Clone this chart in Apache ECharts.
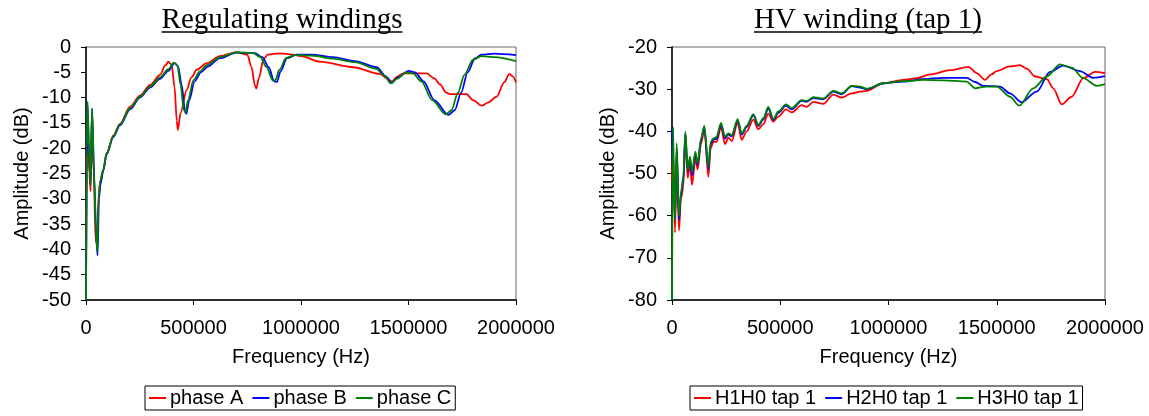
<!DOCTYPE html>
<html lang="en">

<head>
    <meta charset="UTF-8">
    <title>Frequency response</title>
    <style>
        html,
        body {
            margin: 0;
            padding: 0;
            width: 100%;
            height: 100%;
            background-color: #fff;
        }

        #chart {
            width: 1149px;
            height: 416px;
        }
    </style>
</head>

<body>
    <div id="chart"></div>
    <script src="https://cdn.jsdelivr.net/npm/echarts@6/dist/echarts.min.js"></script>
    <script>
        // [frequency Hz, amplitude dB]
        const regPhaseA = [[0, -50], [3000, -25], [5000, -14.5], [10000, -18], [15000, -25], [22000, -28.5], [28000, -13], [36000, -25], [45000, -38.5], [52000, -36], [60000, -29], [66000, -26.5], [80000, -24.3], [96000, -21], [127000, -17.5], [158000, -15.2], [205000, -11.8], [251000, -9.6], [298000, -7.5], [344000, -5.5], [370000, -3.6], [383000, -2.9], [398000, -3.5], [412000, -8], [422000, -14.5], [427000, -16.4], [440000, -13], [468000, -8.5], [490000, -6], [515000, -4.5], [561000, -3.2], [623000, -1.8], [700000, -1.0], [750000, -1.5], [770000, -4], [785000, -7.5], [792000, -8.2], [805000, -6], [825000, -2.5], [845000, -1.5], [902000, -1.25], [960000, -1.5], [1000000, -1.8], [1088000, -2.9], [1243000, -4.0], [1367000, -5.3], [1400000, -6.2], [1422000, -6.8], [1450000, -5.8], [1476000, -5.2], [1584000, -5.2], [1620000, -6.2], [1647000, -7.4], [1675000, -9.0], [1693000, -9.3], [1770000, -9.3], [1800000, -10.5], [1840000, -11.6], [1870000, -11.0], [1910000, -9.8], [1945000, -7], [1969000, -5.3], [1985000, -5.8], [2000000, -7]];
        const regPhaseB = [[0, -50], [4000, -22], [7000, -11.5], [14000, -20], [21000, -27], [28000, -12.2], [38000, -26], [47000, -37], [54000, -41.2], [60000, -30], [68000, -27], [80000, -24.5], [96000, -21.2], [127000, -17.8], [158000, -15.5], [205000, -12.3], [251000, -10.0], [298000, -8.0], [344000, -6.3], [383000, -4.7], [412000, -3.2], [428000, -3.8], [445000, -7.5], [460000, -12.5], [467000, -13.2], [480000, -10.5], [505000, -6.8], [535000, -5.0], [565000, -3.9], [623000, -2.2], [700000, -1.1], [785000, -1.2], [820000, -2.0], [850000, -4.0], [875000, -6.8], [888000, -6.9], [905000, -4.8], [935000, -2.2], [980000, -1.5], [1050000, -1.5], [1150000, -2.0], [1250000, -2.8], [1352000, -4.0], [1395000, -5.8], [1422000, -7.1], [1450000, -6.0], [1500000, -4.7], [1530000, -5.0], [1570000, -6.8], [1620000, -10.5], [1685000, -13.4], [1715000, -12.5], [1745000, -9], [1775000, -5.0], [1810000, -2.2], [1840000, -1.5], [1900000, -1.3], [2000000, -1.6]];
        const regPhaseC = [[0, -50], [4000, -20], [7000, -10.8], [14000, -20], [21000, -27.5], [28000, -12.2], [38000, -25], [46000, -36], [52000, -40.5], [58000, -30], [66000, -26.5], [80000, -24.3], [96000, -21], [127000, -17.6], [158000, -15.3], [205000, -12.1], [251000, -9.8], [298000, -7.8], [344000, -6.0], [383000, -4.4], [409000, -3.1], [425000, -3.6], [440000, -7.5], [455000, -12.5], [462000, -13.0], [475000, -10.5], [499000, -6.6], [530000, -4.8], [561000, -3.6], [623000, -2.0], [700000, -1.05], [777000, -1.2], [810000, -2.0], [840000, -4.0], [868000, -6.6], [880000, -6.6], [900000, -4.5], [930000, -2.2], [970000, -1.6], [1050000, -1.7], [1150000, -2.3], [1250000, -3.0], [1350000, -4.3], [1390000, -5.8], [1417000, -7.2], [1445000, -6.3], [1490000, -5.0], [1520000, -5.2], [1560000, -6.8], [1610000, -10.5], [1673000, -13.3], [1700000, -12.5], [1730000, -9], [1760000, -5.5], [1800000, -2.5], [1840000, -1.8], [1900000, -2.0], [2000000, -2.8]];

        const hvH1 = [[0, -52], [6000, -45], [14000, -64], [21600, -45], [32000, -63.5], [41600, -56], [52300, -53], [61600, -41], [72300, -51], [83100, -48], [92400, -52.7], [108000, -46.5], [118600, -49], [134000, -43], [149300, -39.5], [167900, -50.8], [178600, -44], [190900, -42.5], [206000, -42.5], [226300, -39], [244800, -43], [260300, -41.5], [275700, -42.3], [303300, -38], [321700, -42], [344900, -40], [375700, -37.2], [398700, -39.5], [421800, -38.3], [444900, -35.8], [468000, -37.7], [491000, -36.5], [526600, -34.8], [552700, -35.5], [599000, -33.8], [622000, -34.2], [652800, -33.0], [699000, -33.5], [745100, -31.3], [783600, -32.0], [830000, -31.0], [868400, -30.6], [899000, -30.4], [976000, -28.6], [1068000, -27.8], [1130000, -27.4], [1192000, -26.5], [1284000, -25.5], [1369000, -24.7], [1407000, -26.2], [1446000, -27.8], [1475000, -26.5], [1500000, -25.7], [1560000, -24.6], [1607000, -24.3], [1640000, -25.2], [1677000, -27.0], [1731000, -27.6], [1761000, -29.8], [1800000, -33.6], [1846000, -31.8], [1900000, -27.4], [1954000, -25.9], [2000000, -26.2]];
        const hvH2 = [[0, -39], [3000, -39], [6000, -50], [14000, -61], [21600, -44], [32000, -61], [41600, -55], [52300, -51.5], [61600, -40.5], [72300, -49.5], [83100, -46.5], [92400, -50.5], [108000, -45.3], [118600, -48], [134000, -42], [149300, -39], [167900, -49], [178600, -43], [190900, -42], [206000, -41.7], [226300, -38.3], [244800, -41.7], [260300, -40.8], [275700, -41.2], [303300, -37.4], [321700, -40.8], [344900, -39], [375700, -36.2], [398700, -38.7], [421800, -37.2], [444900, -34.6], [468000, -37.3], [491000, -35.6], [526600, -33.9], [552700, -34.8], [599000, -32.8], [622000, -33], [652800, -32.1], [699000, -32.4], [745100, -30.6], [783600, -31.2], [830000, -29.3], [868400, -29.6], [899000, -30.0], [976000, -28.6], [1068000, -28.2], [1161000, -27.6], [1253000, -27.3], [1361000, -27.3], [1400000, -28.3], [1438000, -29.2], [1515000, -29.4], [1561000, -31.0], [1615000, -33.1], [1684000, -30.6], [1746000, -25.9], [1807000, -24.4], [1884000, -25.7], [1946000, -27.3], [2000000, -26.9]];
        const hvH3 = [[0, -80], [3000, -80], [5000, -39], [9000, -52], [13900, -61], [21600, -42.8], [32300, -60.2], [41600, -54.3], [52300, -50.8], [61600, -40.1], [72300, -49.2], [83100, -46], [92400, -49.6], [108000, -44.8], [118600, -47.6], [134000, -41.7], [149300, -38.7], [167900, -48.4], [178600, -42.5], [190900, -41.7], [206000, -41.3], [226300, -38.0], [244800, -41.3], [260300, -40.5], [275700, -40.9], [303300, -37.1], [321700, -40.5], [344900, -38.7], [375700, -35.9], [398700, -38.5], [421800, -36.9], [444900, -34.2], [468000, -37.1], [491000, -35.3], [526600, -33.6], [552700, -34.5], [599000, -32.6], [622000, -32.8], [652800, -31.9], [699000, -32.2], [745100, -30.4], [783600, -31.0], [830000, -29.2], [868400, -29.4], [899000, -29.9], [976000, -28.6], [1068000, -28.1], [1161000, -27.8], [1253000, -27.9], [1361000, -28.2], [1400000, -29.8], [1450000, -29.4], [1500000, -29.4], [1561000, -31.8], [1604000, -33.9], [1669000, -29.8], [1731000, -27.0], [1792000, -24.1], [1846000, -24.9], [1900000, -27.4], [1962000, -29.2], [2000000, -28.8]];

        const leftNames = ['phase A', 'phase B', 'phase C'];
        const rightNames = ['H1H0 tap 1', 'H2H0 tap 1', 'H3H0 tap 1'];
        const colors = ['#ff0000', '#0000ff', '#008000'];

        const sans = '"Liberation Sans", Arial, sans-serif';
        const serif = '"Liberation Serif", "Times New Roman", serif';
        const fs = 20;

        function textWidth(str, font) {
            const ctx = document.createElement('canvas').getContext('2d');
            ctx.font = font;
            return ctx.measureText(str).width;
        }

        function titleGraphic(str, cx) {
            const font = '29px ' + serif;
            const w = textWidth(str, font);
            return [{
                type: 'text',
                style: { text: str, x: cx, y: 20, font: font, fill: '#000', textAlign: 'center', textVerticalAlign: 'middle' }
            }, {
                type: 'line',
                shape: { x1: cx - w / 2, y1: 32, x2: cx + w / 2, y2: 32 },
                style: { stroke: '#000', lineWidth: 1.5 }
            }];
        }

        function xAxis(gridIndex) {
            return {
                type: 'value', gridIndex, min: 0, max: 2000000, interval: 500000,
                name: 'Frequency (Hz)', nameLocation: 'middle', nameGap: 47,
                nameTextStyle: { fontFamily: sans, fontSize: fs, color: '#000' },
                axisLine: { onZero: false, lineStyle: { color: '#000', width: 1.5 } },
                axisTick: { length: 5, lineStyle: { color: '#000' } },
                axisLabel: { fontFamily: sans, fontSize: fs, color: '#000', margin: 18, showMaxLabel: true, formatter: v => String(v) },
                splitLine: { show: false }
            };
        }

        function yAxis(gridIndex, min, max, interval) {
            return {
                type: 'value', gridIndex, min, max, interval,
                name: 'Amplitude (dB)', nameLocation: 'middle', nameGap: 54,
                nameTextStyle: { fontFamily: sans, fontSize: fs, color: '#000' },
                axisLine: { show: true, lineStyle: { color: '#000', width: 1.5 } },
                axisTick: { show: true, length: 5, lineStyle: { color: '#000' } },
                axisLabel: { fontFamily: sans, fontSize: fs, color: '#000', margin: 15 },
                splitLine: { show: false }
            };
        }

        function line(name, data, i, idx) {
            return {
                name, type: 'line', data, xAxisIndex: idx, yAxisIndex: idx,
                symbol: 'none', smooth: 0.3, smoothMonotone: 'x',
                lineStyle: { color: colors[i], width: 1.8 },
                itemStyle: { color: colors[i] },
                animation: false
            };
        }

        function legend(names, left) {
            return {
                data: names, left, top: 386, orient: 'horizontal',
                icon: 'rect', itemWidth: 17, itemHeight: 2, itemGap: 9,
                borderColor: '#000', borderWidth: 1, padding: [2, 4],
                textStyle: { fontFamily: sans, fontSize: fs, color: '#000', padding: [0, 0, 0, -1] }
            };
        }

        const chart = echarts.init(document.getElementById('chart'), null, { renderer: 'canvas' });
        chart.setOption({
            backgroundColor: '#fff',
            animation: false,
            grid: [
                { left: 86, top: 47, width: 430, height: 253, show: true, borderColor: '#666', borderWidth: 1 },
                { left: 672, top: 47, width: 433, height: 253, show: true, borderColor: '#666', borderWidth: 1 }
            ],
            xAxis: [xAxis(0), xAxis(1)],
            yAxis: [yAxis(0, -50, 0, 5), yAxis(1, -80, -20, 10)],
            legend: [legend(leftNames, 145), legend(rightNames, 690)],
            graphic: [...titleGraphic('Regulating windings', 282), ...titleGraphic('HV winding (tap 1)', 868)],
            series: [
                line(leftNames[0], regPhaseA, 0, 0),
                line(leftNames[1], regPhaseB, 1, 0),
                line(leftNames[2], regPhaseC, 2, 0),
                line(rightNames[0], hvH1, 0, 1),
                line(rightNames[1], hvH2, 1, 1),
                line(rightNames[2], hvH3, 2, 1)
            ]
        });
    </script>
</body>

</html>
